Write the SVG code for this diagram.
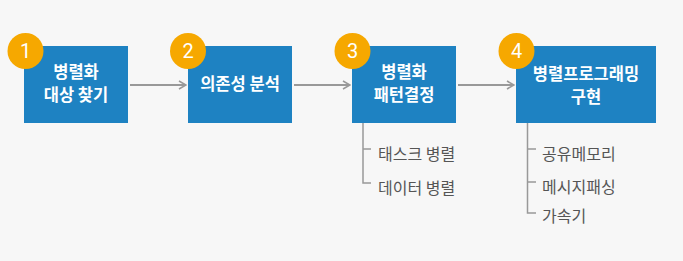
<svg xmlns="http://www.w3.org/2000/svg" width="683" height="261" viewBox="0 0 683 261">
<defs>
<style>
.box{fill:#1E82C2;}
.badge{fill:#F6A800;}
.num{fill:#fff;font-family:"Roboto","Liberation Sans",sans-serif;font-size:20px;text-anchor:middle;}
.lbl{fill:#fff;font-family:"Noto Sans CJK KR","Noto Sans",sans-serif;font-size:16.5px;font-weight:bold;text-anchor:middle;}
.sub{fill:#555;font-family:"Noto Sans CJK KR","Noto Sans",sans-serif;font-size:16px;}
.conn{stroke:#999;stroke-width:2;fill:none;}
.tree{stroke:#999;stroke-width:1.5;fill:none;}
</style>
<marker id="arr" viewBox="0 0 10 10" refX="9" refY="5" markerWidth="10" markerHeight="10" markerUnits="userSpaceOnUse" orient="auto">
<path d="M2,1 L9,5 L2,9" fill="none" stroke="#999" stroke-width="1.6"/>
</marker>
</defs>
<rect width="683" height="261" fill="#F7F7F7"/>
<g id="connectors">
<line class="conn" x1="130" y1="85" x2="186" y2="85" marker-end="url(#arr)"/>
<line class="conn" x1="294" y1="85" x2="350" y2="85" marker-end="url(#arr)"/>
<line class="conn" x1="458" y1="85" x2="514" y2="85" marker-end="url(#arr)"/>
<path class="tree" d="M363,123 V183 H371 M363,149 H371"/>
<path class="tree" d="M527.5,123 V213 H536 M527.5,149 H536 M527.5,182 H536"/>
</g>
<g id="node1">
<rect class="box" x="24" y="46" width="104" height="77"/>
<circle class="badge" cx="25.5" cy="51" r="18"/>
<text class="num" x="25.5" y="58">1</text>
<text class="lbl" x="76" y="78">병렬화</text>
<text class="lbl" x="76" y="101">대상 찾기</text>
</g>
<g id="node2">
<rect class="box" x="188" y="46" width="104" height="77"/>
<circle class="badge" cx="188" cy="51" r="18"/>
<text class="num" x="188" y="58">2</text>
<text class="lbl" x="240" y="90">의존성 분석</text>
</g>
<g id="node3">
<rect class="box" x="352" y="46" width="104" height="77"/>
<circle class="badge" cx="352.5" cy="51" r="18"/>
<text class="num" x="352.5" y="58">3</text>
<text class="lbl" x="404" y="78">병렬화</text>
<text class="lbl" x="404" y="101">패턴결정</text>
</g>
<g id="node4">
<rect class="box" x="516" y="46" width="140" height="77"/>
<circle class="badge" cx="516.5" cy="51" r="18"/>
<text class="num" x="516.5" y="58">4</text>
<text class="lbl" x="586" y="80">병렬프로그래밍</text>
<text class="lbl" x="586" y="103">구현</text>
</g>
<g id="sub3">
<text class="sub" x="378" y="160">태스크 병렬</text>
<text class="sub" x="378" y="194">데이터 병렬</text>
</g>
<g id="sub4">
<text class="sub" x="542" y="160">공유메모리</text>
<text class="sub" x="542" y="193">메시지패싱</text>
<text class="sub" x="542" y="222">가속기</text>
</g>
</svg>
